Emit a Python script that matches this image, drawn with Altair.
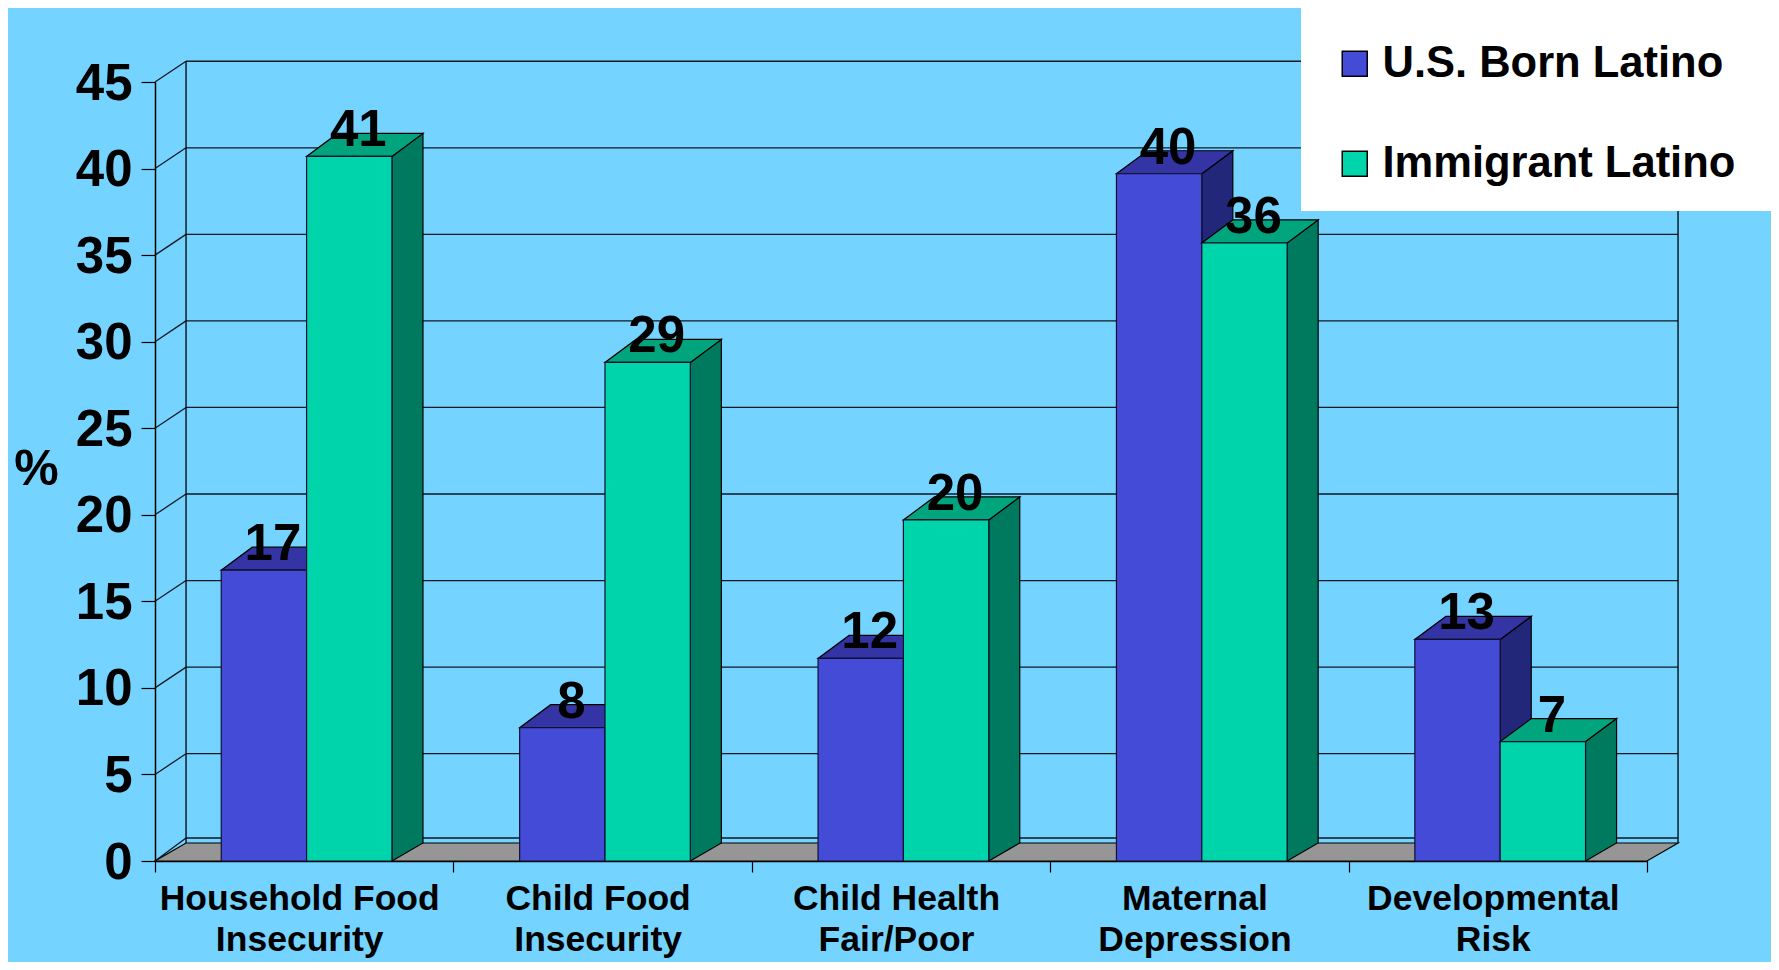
import altair as alt
import pandas as pd

categories = ["Household Food\nInsecurity", "Child Food\nInsecurity", "Child Health\nFair/Poor",
              "Maternal\nDepression", "Developmental\nRisk"]
series = ["U.S. Born Latino", "Immigrant Latino"]
us_heights = [16.8, 7.7, 11.7, 39.7, 12.8]
imm_heights = [40.7, 28.8, 19.7, 35.7, 6.9]
us_labels = ["17", "8", "12", "40", "13"]
imm_labels = ["41", "29", "20", "36", "7"]
y_ticks = [0, 5, 10, 15, 20, 25, 30, 35, 40, 45]
x_ticks = [0, 1, 2, 3, 4, 5]

BG = "#75D3FF"
FRONT = ["#444BD6", "#00D4AA"]
TOP = ["#3434A4", "#00A57E"]
SIDE = ["#22277A", "#007A5E"]
SANS = "Liberation Sans"

# depth of the pseudo-3D projection, in scale units
DX = 0.104
LIFT_BOTTOM = 1.04
LIFT_TOP = 1.33
LIFT_GRID = 1.2
LEFT, MID, RIGHT = 0.222, 0.508, 0.794

xs = alt.Scale(domain=[0, 5], nice=False, zero=False)
ys = alt.Scale(domain=[0, 45], nice=False, zero=False)
x_axis = alt.Axis(values=x_ticks, labels=False, title=None, grid=False, tickSize=11,
                  tickColor="black", domainColor="black", tickWidth=1.2, domainWidth=1.5)
y_axis = alt.Axis(values=y_ticks, title="%", titleAngle=0, titleFont=SANS, titleFontSize=50,
                  titleFontWeight="bold", titleColor="black", titleX=-119, titleY=387, titleAlign="center",
                  titleBaseline="middle", grid=False, tickSize=14, tickColor="black", tickWidth=1.2,
                  domainColor="black", domainWidth=1.5, labelFont=SANS, labelFontSize=51,
                  labelFontWeight="bold", labelColor="black", labelPadding=9, labelOffset=2)
X = lambda f: alt.X(f, scale=xs, axis=x_axis)
Y = lambda f: alt.Y(f, scale=ys, stack=None, axis=y_axis)


def polygon(points, fill):
    df = pd.DataFrame(points, columns=["x", "y", "y2"])
    return alt.Chart(df).mark_area(fill=fill, stroke="black", strokeWidth=1.2, interpolate="linear").encode(
        x=X("x:Q"), y=Y("y:Q"), y2="y2:Q")


def bar_layers(s):
    heights = [us_heights, imm_heights][s]
    out = []
    for k, v in enumerate(heights):
        a = k + (LEFT if s == 0 else MID)
        b = k + (MID if s == 0 else RIGHT)
        out.append(polygon([(b, 0, v), (b + DX, LIFT_BOTTOM, v + LIFT_TOP)], SIDE[s]))
        out.append(polygon([(a, v, v), (a + DX, v, v + LIFT_TOP), (b, v, v + LIFT_TOP),
                            (b + DX, v + LIFT_TOP, v + LIFT_TOP)], TOP[s]))
    df = pd.DataFrame([dict(a=k + (LEFT if s == 0 else MID), b=k + (MID if s == 0 else RIGHT), v=v, series=series[s])
                       for k, v in enumerate(heights)])
    out.append(alt.Chart(df).mark_rect(stroke="#101030", strokeWidth=1.2, opacity=1).encode(
        x=X("a:Q"), x2="b:Q", y=Y("v:Q"), y2=alt.Y2(datum=0), color=color))
    return out


color = alt.Color("series:N", scale=alt.Scale(domain=series, range=FRONT), legend=alt.Legend(
    title=None, orient="none", legendX=1178, legendY=-40, padding=0, symbolType="square", symbolSize=625,
    symbolStrokeColor="black", symbolStrokeWidth=1.5, symbolOpacity=1, labelFont=SANS, labelFontSize=43.5,
    labelFontWeight="bold", labelColor="black", labelLimit=600, labelOffset=6, rowPadding=55))

floor_mark = polygon([(0, 0, 0), (DX, 0, LIFT_BOTTOM), (5, 0, LIFT_BOTTOM), (5 + DX, LIFT_BOTTOM, LIFT_BOTTOM)],
                     "#969696")

grid = pd.DataFrame([dict(v=v, a=0, b=DX, c=5 + DX, back=v + (LIFT_TOP if v == 0 else LIFT_GRID)) for v in y_ticks])
walls = pd.DataFrame([dict(x=DX, y=LIFT_BOTTOM, y2=45 + LIFT_GRID), dict(x=5 + DX, y=LIFT_BOTTOM, y2=45 + LIFT_GRID)])

grid_h = alt.Chart(grid).mark_rule(color="#101820", strokeWidth=1.3).encode(
    x=X("b:Q"), x2="c:Q", y=Y("back:Q"))
grid_d = alt.Chart(grid).mark_rule(color="#101820", strokeWidth=1.3).encode(
    x=X("a:Q"), x2="b:Q", y=Y("v:Q"), y2="back:Q")
wall_v = alt.Chart(walls).mark_rule(color="black", strokeWidth=1.3).encode(
    x=X("x:Q"), y=Y("y:Q"), y2="y2:Q")

legend_box = alt.Chart(grid.head(1)).mark_rect(fill="white", stroke=None).encode(
    x=alt.value(1146), x2=alt.value(1616), y=alt.value(-74), y2=alt.value(129))


def tag_layer(s):
    heights = [us_heights, imm_heights][s]
    labels = [us_labels, imm_labels][s]
    df = pd.DataFrame([dict(x=k + ((LEFT + MID) / 2 if s == 0 else (MID + RIGHT) / 2), v=v, t=labels[k])
                       for k, v in enumerate(heights)])
    return alt.Chart(df).mark_text(font=SANS, fontSize=51, fontWeight="bold", color="black", dx=9, dy=-25,
                                   baseline="middle").encode(x=X("x:Q"), y=Y("v:Q"), text="t:N")


cat_df = pd.DataFrame([dict(x=k + 0.485, t=c) for k, c in enumerate(categories)])
cat_text = alt.Chart(cat_df).mark_text(font=SANS, fontSize=35.5, fontWeight="bold", color="black", align="center",
                                       baseline="alphabetic", lineBreak="\n", lineHeight=41).encode(
    x=X("x:Q"), y=alt.value(828), text="t:N")

chart = alt.layer(
    floor_mark, grid_h, grid_d, wall_v,
    *bar_layers(0), *bar_layers(1),
    legend_box, tag_layer(0), tag_layer(1), cat_text,
).properties(
    width=1492, height=779, background=BG,
    padding={"left": 147, "top": 74, "right": 124, "bottom": 101},
    autosize=alt.AutoSizeParams(type="none"),
).configure_view(stroke=None)

chart.save("out.html", embed_options={"renderer": "svg", "actions": False})
